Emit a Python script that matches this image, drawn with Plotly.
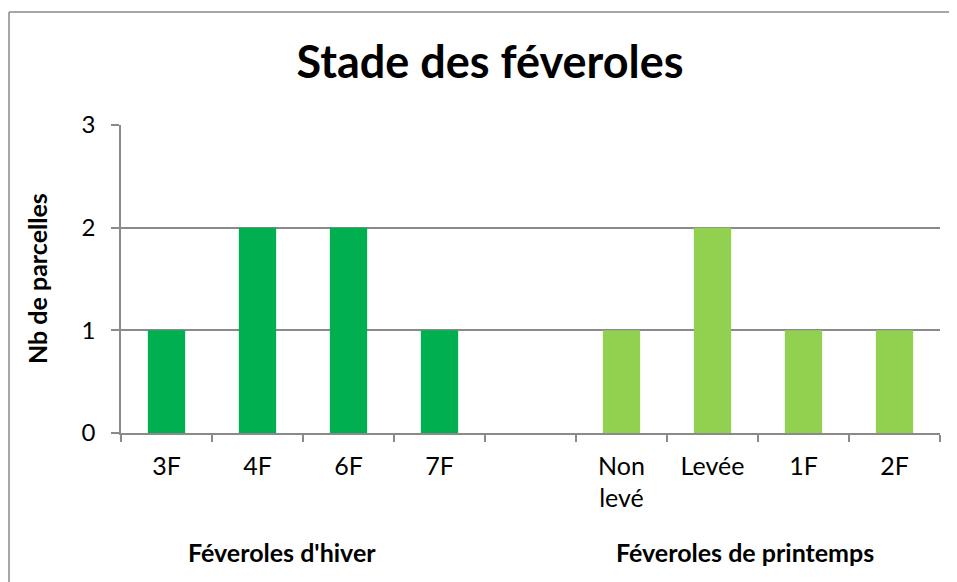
import plotly.graph_objects as go

categories = ["3F", "4F", "6F", "7F", " ", "Non<br>levé", "Levée", "1F", "2F"]
hiver_values = [1, 2, 2, 1, None, None, None, None, None]
printemps_values = [None, None, None, None, None, 1, 2, 1, 1]
y_ticks = [0, 1, 2, 3]
group_labels = ["Féveroles d'hiver", "Féveroles de printemps"]
group_positions = [1.27, 6.36]

FONT = "Lato, 'Open Sans', sans-serif"
GRAY = "#8a8a8a"

fig = go.Figure()
fig.add_trace(go.Bar(x=categories, y=hiver_values, marker=dict(color="#00B050", line=dict(width=0)), showlegend=False))
fig.add_trace(go.Bar(x=categories, y=printemps_values, marker=dict(color="#92D050", line=dict(width=0)), showlegend=False))

# page has an 8px body margin; work in figure coordinates
OFF = 8
W, H = 949, 574
L, T = 121 - OFF, 125 - OFF
pw, ph = 819, 308
R, B = W - L - pw, H - T - ph

def px(x):  # page pixel -> paper x
    return (x - OFF - L) / pw

def py(y):  # page pixel -> paper y
    return (T + ph - (y - OFF)) / ph

annotations = []
for lab, pos in zip(group_labels, group_positions):
    annotations.append(dict(x=pos, xref="x", y=py(552), yref="paper", text="<b>%s</b>" % lab,
                            showarrow=False, font=dict(size=25, color="black", family=FONT),
                            xanchor="center", yanchor="middle"))
annotations.append(dict(x=px(37), xref="paper", y=py(279), yref="paper", text="<b>Nb de parcelles</b>",
                        textangle=-90, showarrow=False, font=dict(size=25, color="black", family=FONT),
                        xanchor="center", yanchor="middle"))

fig.update_layout(
    width=W, height=H,
    margin=dict(l=L, r=R, t=T, b=B),
    paper_bgcolor="white", plot_bgcolor="white",
    barmode="overlay", bargap=0.59,
    font=dict(family=FONT, color="black"),
    title=dict(text="<b>Stade des féveroles</b>", x=(490 - OFF) / W, xref="container", xanchor="center",
               y=1 - (62 - OFF) / H, yref="container", yanchor="middle",
               font=dict(size=45, color="black", family=FONT)),
    xaxis=dict(type="category", categoryorder="array", categoryarray=categories,
               tickson="boundaries", ticks="outside", ticklen=7, tickcolor=GRAY, tickwidth=1.5,
               showline=True, linecolor=GRAY, linewidth=1.5, showgrid=False, ticklabelstandoff=10,
               tickfont=dict(size=25, color="black", family=FONT), range=[-0.5, 8.5]),
    yaxis=dict(range=[0, 3], tickvals=y_ticks, ticks="outside", ticklen=8, tickcolor=GRAY, tickwidth=1.5,
               showline=True, linecolor=GRAY, linewidth=1.5, showgrid=True, gridcolor=GRAY, gridwidth=1.5,
               zeroline=False, tickfont=dict(size=24, color="black", family=FONT), ticklabelstandoff=11),
    annotations=annotations,
    shapes=[
        dict(type="line", xref="paper", yref="paper", x0=px(9), x1=px(9), y0=py(12), y1=py(620),
             line=dict(color=GRAY, width=1.5)),
        dict(type="line", xref="paper", yref="paper", x0=px(9), x1=px(990), y0=py(12), y1=py(12),
             line=dict(color=GRAY, width=1.5)),
    ],
)

fig.write_html("out.html")
